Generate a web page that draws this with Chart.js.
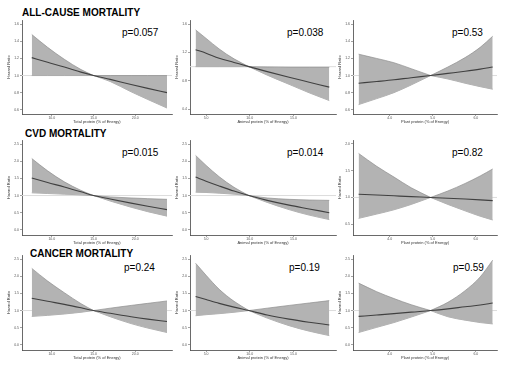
<!DOCTYPE html>
<html>
<head>
<meta charset="utf-8">
<script src="https://cdn.jsdelivr.net/npm/chart.js@4.4.1/dist/chart.umd.min.js"></script>
<style>
body { margin: 0; background: #fff; font-family: "Liberation Sans", Arial, sans-serif; }
#page { position: relative; width: 512px; height: 368px; overflow: hidden; background: #fff; }
.box { position: absolute; }
.head { position: absolute; font-weight: bold; font-size: 10px; line-height: 10px; color: #000; white-space: nowrap; }
.pval { position: absolute; font-size: 10px; line-height: 10px; color: #000; white-space: nowrap; }
</style>
</head>
<body>
<div id="page">
  <div class="head" style="left:22px;top:8px">ALL-CAUSE MORTALITY</div>
  <div class="head" style="left:25px;top:129px">CVD MORTALITY</div>
  <div class="head" style="left:30px;top:249px">CANCER MORTALITY</div>

  <div class="pval" style="left:122px;top:28px">p=0.057</div>
  <div class="pval" style="left:287px;top:28px">p=0.038</div>
  <div class="pval" style="left:452px;top:28px">p=0.53</div>
  <div class="pval" style="left:122px;top:148px">p=0.015</div>
  <div class="pval" style="left:287px;top:148px">p=0.014</div>
  <div class="pval" style="left:452px;top:148px">p=0.82</div>
  <div class="pval" style="left:124px;top:263px">p=0.24</div>
  <div class="pval" style="left:289px;top:263px">p=0.19</div>
  <div class="pval" style="left:453px;top:263px">p=0.59</div>
</div>

<script>
// protein intake (% of energy) where the curves were read, pivot (HR = 1) at index 4
var totalX  = [7.6, 9.5, 11.5, 13.5, 15, 17, 19.5, 21.5, 23.8];
var animalX = [3.8, 5, 6.5, 8.2, 9.9, 12, 14.5, 16.8, 19.1];
var plantX  = [3.28, 3.7, 4.1, 4.5, 4.95, 5.35, 5.75, 6.1, 6.39];

var totalTicks  = [10, 15, 20];
var animalTicks = [5, 10, 15];
var plantTicks  = [4, 5, 6];

var hrTicksA = [0.6, 0.8, 1.0, 1.2, 1.4, 1.6];
var hrTicksB = [0.4, 0.8, 1.2, 1.6];
var hrTicksC = [0, 0.5, 1.0, 1.5, 2.0, 2.5];
var hrTicksD = [0.5, 1.0, 1.5, 2.0];

// all-cause mortality
var allTotalMid = [1.21, 1.155, 1.10, 1.04, 1.0, 0.955, 0.895, 0.85, 0.80];
var allTotalHi  = [1.48, 1.33, 1.19, 1.07, 1.0, 1.0, 1.0, 1.0, 1.0];
var allTotalLo  = [1.0, 1.0, 1.0, 1.0, 1.0, 0.93, 0.81, 0.72, 0.62];

var allAnimalMid = [1.24, 1.19, 1.12, 1.06, 1.0, 0.93, 0.85, 0.78, 0.71];
var allAnimalHi  = [1.52, 1.40, 1.25, 1.11, 1.0, 0.995, 0.99, 0.99, 0.99];
var allAnimalLo  = [1.0, 1.0, 1.0, 1.0, 1.0, 0.88, 0.75, 0.63, 0.52];

var allPlantMid = [0.91, 0.93, 0.95, 0.975, 1.0, 1.025, 1.05, 1.075, 1.10];
var allPlantHi  = [1.25, 1.20, 1.15, 1.08, 1.0, 1.10, 1.21, 1.33, 1.46];
var allPlantLo  = [0.66, 0.73, 0.80, 0.89, 1.0, 0.96, 0.91, 0.87, 0.84];

// CVD mortality
var cvdTotalMid = [1.51, 1.38, 1.25, 1.11, 1.0, 0.90, 0.78, 0.69, 0.59];
var cvdTotalHi  = [2.08, 1.72, 1.40, 1.15, 1.0, 0.96, 0.93, 0.91, 0.89];
var cvdTotalLo  = [1.08, 1.06, 1.04, 1.02, 1.0, 0.84, 0.66, 0.53, 0.40];

var cvdAnimalMid = [1.54, 1.42, 1.28, 1.13, 1.0, 0.86, 0.72, 0.61, 0.50];
var cvdAnimalHi  = [2.17, 1.88, 1.55, 1.24, 1.0, 0.93, 0.89, 0.87, 0.86];
var cvdAnimalLo  = [1.10, 1.09, 1.07, 1.04, 1.0, 0.80, 0.59, 0.43, 0.30];

var cvdPlantMid = [1.06, 1.045, 1.03, 1.015, 1.0, 0.985, 0.97, 0.955, 0.94];
var cvdPlantHi  = [1.82, 1.58, 1.38, 1.18, 1.0, 1.12, 1.26, 1.40, 1.53];
var cvdPlantLo  = [0.61, 0.69, 0.77, 0.87, 1.0, 0.87, 0.75, 0.65, 0.58];

// cancer mortality
var cancerTotalMid = [1.36, 1.27, 1.18, 1.08, 1.0, 0.92, 0.82, 0.75, 0.68];
var cancerTotalHi  = [2.23, 1.86, 1.52, 1.20, 1.0, 1.07, 1.15, 1.21, 1.28];
var cancerTotalLo  = [0.83, 0.86, 0.90, 0.95, 1.0, 0.82, 0.62, 0.49, 0.36];

var cancerAnimalMid = [1.41, 1.32, 1.21, 1.10, 1.0, 0.87, 0.75, 0.66, 0.58];
var cancerAnimalHi  = [2.38, 2.03, 1.62, 1.27, 1.0, 1.07, 1.15, 1.22, 1.29];
var cancerAnimalLo  = [0.85, 0.88, 0.91, 0.95, 1.0, 0.78, 0.56, 0.40, 0.27];

var cancerPlantMid = [0.83, 0.87, 0.91, 0.955, 1.0, 1.05, 1.11, 1.16, 1.22];
var cancerPlantHi  = [1.80, 1.55, 1.35, 1.17, 1.0, 1.24, 1.58, 1.98, 2.47];
var cancerPlantLo  = [0.36, 0.51, 0.65, 0.81, 1.0, 0.82, 0.72, 0.65, 0.61];


Chart.defaults.font.family = '"Liberation Sans", Arial, sans-serif';

function makeChart(rect, xs, mid, hi, lo, xTicks, yTicks, xr, yr, xTitle) {
    // rect = plot area [left, top, right, bottom] on the page
    var wrap = document.createElement('div');
    wrap.className = 'box';
    wrap.style.left = (rect[0] - 16) + 'px';
    wrap.style.top = (rect[1] - 4) + 'px';
    wrap.style.width = (rect[2] - rect[0] + 20) + 'px';
    wrap.style.height = (rect[3] - rect[1] + 15) + 'px';
    var cv = document.createElement('canvas');
    wrap.appendChild(cv);
    document.getElementById('page').appendChild(wrap);

    function pts(ys, a, b) {
        var out = [];
        for (var i = a; i <= b; i++) out.push({x: xs[i], y: ys[i]});
        return out;
    }
    function edge(ys, a, b, fill) {
        return {
            data: pts(ys, a, b),
            borderColor: '#8e8e8e',
            borderWidth: 0.7,
            backgroundColor: '#b3b3b3',
            pointRadius: 0,
            cubicInterpolationMode: 'monotone',
            fill: fill,
            order: 1
        };
    }
    var axisTicks = {font: {size: 3.5}, color: '#555', autoSkip: false, maxRotation: 0,
        callback: function(v) { return Number(v).toFixed(1); }};
    var grid = {drawOnChartArea: false, tickLength: 2, color: '#666', lineWidth: 0.6};
    var border = {color: '#444', width: 0.8};

    return new Chart(cv.getContext('2d'), {
        type: 'line',
        data: {
            datasets: [
                {
                    data: pts(mid, 0, 8),
                    borderColor: '#404040',
                    borderWidth: 1.1,
                    pointRadius: 0,
                    cubicInterpolationMode: 'monotone',
                    fill: false,
                    order: 0
                },
                edge(hi, 0, 4, '+1'),
                edge(lo, 0, 4, false),
                edge(hi, 4, 8, '+1'),
                edge(lo, 4, 8, false),
                {
                    data: [{x: xr[0], y: 1}, {x: xr[1], y: 1}],
                    borderColor: '#dcdcdc',
                    borderWidth: 1,
                    pointRadius: 0,
                    fill: false,
                    order: 2
                }
            ]
        },
        options: {
            responsive: true,
            maintainAspectRatio: false,
            animation: false,
            layout: {padding: {top: 4, right: 4, left: 0, bottom: 0}},
            plugins: {legend: {display: false}, tooltip: {enabled: false}},
            scales: {
                x: {
                    type: 'linear', min: xr[0], max: xr[1],
                    afterBuildTicks: function(s) { s.ticks = xTicks.map(function(v) { return {value: v}; }); },
                    afterFit: function(s) { s.height = 11; },
                    ticks: Object.assign({padding: 0}, axisTicks),
                    grid: grid, border: border,
                    title: {display: true, text: xTitle, font: {size: 4}, color: '#333', padding: {top: 0, bottom: 1}}
                },
                y: {
                    type: 'linear', min: yr[0], max: yr[1],
                    afterBuildTicks: function(s) { s.ticks = yTicks.map(function(v) { return {value: v}; }); },
                    afterFit: function(s) { s.width = 16; },
                    ticks: Object.assign({padding: 1}, axisTicks),
                    grid: grid, border: border,
                    title: {display: true, text: 'Hazard Ratio', font: {size: 4}, color: '#333', padding: 0}
                }
            }
        }
    });
}

var totalTitle = 'Total protein (% of Energy)';
var animalTitle = 'Animal protein (% of Energy)';
var plantTitle = 'Plant protein (% of Energy)';
var totalRange = [6.43, 24.4], animalRange = [3.16, 19.87], plantRange = [3.15, 6.49];

makeChart([22, 20, 172, 114], totalX, allTotalMid, allTotalHi, allTotalLo, totalTicks, hrTicksA, totalRange, [0.55, 1.65], totalTitle);
makeChart([190, 20, 336, 114], animalX, allAnimalMid, allAnimalHi, allAnimalLo, animalTicks, hrTicksB, animalRange, [0.33, 1.66], animalTitle);
makeChart([353, 20, 497, 114], plantX, allPlantMid, allPlantHi, allPlantLo, plantTicks, hrTicksA, plantRange, [0.55, 1.65], plantTitle);

makeChart([22, 140, 172, 235], totalX, cvdTotalMid, cvdTotalHi, cvdTotalLo, totalTicks, hrTicksC, totalRange, [-0.15, 2.62], totalTitle);
makeChart([190, 140, 336, 235], animalX, cvdAnimalMid, cvdAnimalHi, cvdAnimalLo, animalTicks, hrTicksC, animalRange, [-0.15, 2.62], animalTitle);
makeChart([353, 140, 497, 235], plantX, cvdPlantMid, cvdPlantHi, cvdPlantLo, plantTicks, hrTicksD, plantRange, [0.30, 2.07], plantTitle);

makeChart([22, 255, 172, 350], totalX, cancerTotalMid, cancerTotalHi, cancerTotalLo, totalTicks, hrTicksC, totalRange, [-0.15, 2.62], totalTitle);
makeChart([190, 255, 336, 350], animalX, cancerAnimalMid, cancerAnimalHi, cancerAnimalLo, animalTicks, hrTicksC, animalRange, [-0.15, 2.62], animalTitle);
makeChart([353, 255, 497, 350], plantX, cancerPlantMid, cancerPlantHi, cancerPlantLo, plantTicks, hrTicksC, plantRange, [-0.15, 2.62], plantTitle);
</script>
</body>
</html>
